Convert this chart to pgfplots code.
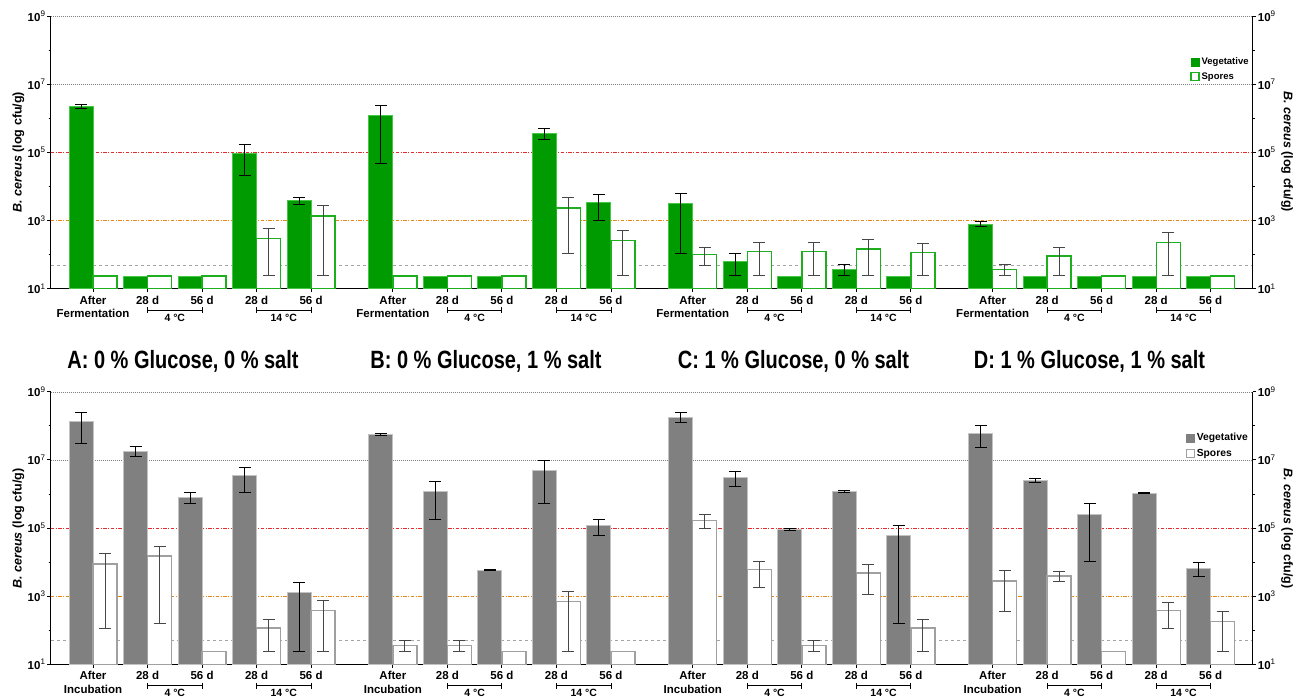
\documentclass[border=0pt]{standalone}
\usepackage{fontspec}
\setmainfont{Liberation Sans}
\usepackage{pgfplots}
\usepackage{pgfplotstable}
\pgfplotsset{compat=1.18}

\definecolor{vgreen}{RGB}{0,155,0}
\definecolor{vgreenedge}{RGB}{70,200,70}
\definecolor{sgreen}{RGB}{30,175,30}
\definecolor{vgray}{RGB}{128,128,128}
\definecolor{vgrayedge}{RGB}{195,195,195}
\definecolor{sgrayedge}{RGB}{160,160,160}
\definecolor{refred}{RGB}{225,45,45}
\definecolor{reforange}{RGB}{235,135,25}
\definecolor{refgray}{RGB}{165,165,165}
\definecolor{gridgray}{RGB}{130,130,130}
\definecolor{errgray}{RGB}{70,70,70}

\newcommand\xtfont{\fontsize{11.5}{13.5}\selectfont\bfseries}
\newcommand\ytfont{\fontsize{11.5}{13}\selectfont\bfseries}
\newcommand\brfont{\fontsize{10.5}{12}\selectfont\bfseries}
\newcommand\lgfontA{\fontsize{9.5}{11}\selectfont\bfseries}
\newcommand\lgfontB{\fontsize{10.3}{12}\selectfont\bfseries}
\newcommand\ylfont{\fontsize{12.5}{14}\selectfont\bfseries}
\newcommand\ttfont{\fontsize{25}{28}\selectfont\bfseries}
\newcommand\ylab[1]{10\textsuperscript{\mdseries #1}}

% log10 of cfu/g: x position, bar value, upper and lower end of error bar
\pgfplotstableread{
x y hi lo
0 6.34 6.41 6.28
1 1.37 1.37 1.37
2 1.37 1.37 1.37
3 4.98 5.23 4.31
4 3.58 3.67 3.48
5.5 6.07 6.37 4.68
6.5 1.37 1.37 1.37
7.5 1.37 1.37 1.37
8.5 5.57 5.70 5.38
9.5 3.53 3.77 2.99
11 3.50 3.80 2.04
12 1.81 2.04 1.38
13 1.37 1.37 1.37
14 1.57 1.71 1.38
15 1.37 1.37 1.37
16.5 2.89 2.98 2.83
17.5 1.37 1.37 1.37
18.5 1.37 1.37 1.37
19.5 1.37 1.37 1.37
20.5 1.37 1.37 1.37
}\topveg
\pgfplotstableread{
x y hi lo
0 1.37 1.37 1.37
1 1.37 1.37 1.37
2 1.37 1.37 1.37
3 2.47 2.76 1.38
4 3.13 3.44 1.38
5.5 1.37 1.37 1.37
6.5 1.37 1.37 1.37
7.5 1.37 1.37 1.37
8.5 3.37 3.67 2.03
9.5 2.42 2.70 1.38
11 2.01 2.20 1.68
12 2.10 2.36 1.38
13 2.10 2.36 1.38
14 2.16 2.45 1.38
15 2.07 2.33 1.38
16.5 1.57 1.71 1.38
17.5 1.96 2.20 1.38
18.5 1.37 1.37 1.37
19.5 2.36 2.65 1.38
20.5 1.37 1.37 1.37
}\topspo
\pgfplotstableread{
x y hi lo
0 8.14 8.40 7.47
1 7.26 7.40 7.09
2 5.90 6.04 5.71
3 6.55 6.78 6.03
4 3.11 3.41 1.39
5.5 7.76 7.79 7.73
6.5 6.08 6.36 5.25
7.5 3.76 3.77 3.75
8.5 6.69 6.97 5.71
9.5 5.07 5.25 4.79
11 8.25 8.40 8.09
12 6.48 6.67 6.21
13 4.96 4.99 4.93
14 6.07 6.11 6.03
15 4.77 5.08 2.20
16.5 7.79 8.00 7.36
17.5 6.40 6.46 6.35
18.5 5.41 5.73 4.03
19.5 6.02 6.05 6.00
20.5 3.81 3.98 3.57
}\botveg
\pgfplotstableread{
x y hi lo
0 3.95 4.25 2.04
1 4.18 4.47 2.20
2 1.37 1.37 1.37
3 2.06 2.33 1.39
4 2.58 2.88 1.39
5.5 1.56 1.71 1.39
6.5 1.56 1.71 1.39
7.5 1.37 1.37 1.37
8.5 2.84 3.14 1.39
9.5 1.37 1.37 1.37
11 5.23 5.39 4.99
12 3.79 4.03 3.25
13 1.56 1.71 1.39
14 3.68 3.93 3.04
15 2.07 2.33 1.39
16.5 3.45 3.74 2.54
17.5 3.59 3.73 3.43
18.5 1.37 1.37 1.37
19.5 2.58 2.82 2.05
20.5 2.26 2.55 1.39
}\botspo

\pgfplotsset{
  panel/.style={
    scale only axis, width=1202pt, height=272.5pt,
    xmin=-0.776, xmax=21.27, ymin=1, ymax=9,
    clip mode=individual,
    axis line style={line width=1.1pt, black},
    tick align=outside,
    major tick length=3.5pt, minor tick length=2pt,
    tick style={black, line width=0.9pt},
    ytick={1,3,5,7,9}, minor ytick={2,4,6,8},
    yticklabels={\ylab{1},\ylab{3},\ylab{5},\ylab{7},\ylab{9}},
    yticklabel style={font=\ytfont, inner sep=1.5pt},
  },
  mainpanel/.style={
    panel, axis x line*=bottom, axis y line*=left,
    xtick={0,1,2,3,4,5.5,6.5,7.5,8.5,9.5,11,12,13,14,15,16.5,17.5,18.5,19.5,20.5},
    xticklabel style={font=\xtfont, align=center},
    legend cell align=left,
  },
  rightpanel/.style={
    panel, axis x line=none, axis y line*=right, xtick=\empty,
  },
  refline/.style={forget plot, sharp plot, no marks},
  vbar/.style={ybar, bar width=0.44, bar shift=-0.22},
  sbar/.style={ybar, bar width=0.44, bar shift=0.22},
  errs/.style={forget plot, draw=none, mark=none,
    restrict expr to domain={\thisrow{hi}-\thisrow{lo}}{0.005:100},
    error bars/.cd, y dir=both, y explicit,
    error bar style={draw=#1, line width=1pt, solid},
    error mark options={rotate=90, mark size=6pt, line width=1pt, draw=#1}},
}
\newcommand\reflines{%
  \addplot[refline, gridgray, line width=0.6pt, dash pattern=on 1pt off 1pt] coordinates {(-0.776,7) (21.27,7)};
  \addplot[refline, gridgray, line width=0.6pt, dash pattern=on 1pt off 1pt] coordinates {(-0.776,9) (21.27,9)};
  \addplot[refline, refred, line width=1.1pt, dash pattern=on 3.5pt off 1.5pt on 1pt off 1.5pt] coordinates {(-0.776,5) (21.27,5)};
  \addplot[refline, reforange, line width=1.1pt, dash pattern=on 3.5pt off 1.5pt on 1pt off 1.5pt] coordinates {(-0.776,3) (21.27,3)};
  \addplot[refline, refgray, line width=0.9pt, dash pattern=on 3pt off 3pt] coordinates {(-0.776,1.69) (21.27,1.69)};
}
\newcommand\tbr[4]{%
  \draw[line width=0.9pt] ([yshift=-21.5pt]axis cs:#1,1) -- ([yshift=-21.5pt]axis cs:#2,1);
  \draw[line width=0.9pt] ([yshift=-18.5pt]axis cs:#1,1) -- ([yshift=-24.5pt]axis cs:#1,1);
  \draw[line width=0.9pt] ([yshift=-18.5pt]axis cs:#2,1) -- ([yshift=-24.5pt]axis cs:#2,1);
  \node[font=\brfont, anchor=north, inner sep=0pt] at ([yshift=-25pt]axis cs:#3,1) {#4};
}
\newcommand\allbr{%
  \tbr{1}{2}{1.5}{4 °C}\tbr{3}{4}{3.5}{14 °C}%
  \tbr{6.5}{7.5}{7}{4 °C}\tbr{8.5}{9.5}{9}{14 °C}%
  \tbr{12}{13}{12.5}{4 °C}\tbr{14}{15}{14.5}{14 °C}%
  \tbr{17.5}{18.5}{18}{4 °C}\tbr{19.5}{20.5}{20}{14 °C}%
}

\begin{document}
\begin{tikzpicture}
\useasboundingbox (0,0) rectangle (1300pt,699pt);

% ---------- top panel ----------
\begin{axis}[mainpanel, at={(50.7pt,410.3pt)}, anchor=south west,
  xticklabels={{After\\Fermentation},28 d,56 d,28 d,56 d,{After\\Fermentation},28 d,56 d,28 d,56 d,{After\\Fermentation},28 d,56 d,28 d,56 d,{After\\Fermentation},28 d,56 d,28 d,56 d},
  legend style={at={(0.948,0.855)}, anchor=north west, draw=none, fill=none, font=\lgfontA, inner sep=0pt, row sep=2.5pt},
]
\reflines
\addplot[vbar, fill=vgreen, draw=vgreenedge, line width=1pt,
  legend image code/.code={\draw[fill=vgreen, draw=vgreen, line width=0.8pt] (0pt,-4pt) rectangle (8pt,4pt);}]
  table[x=x,y=y] {\topveg};
\addlegendentry{Vegetative}
\addplot[sbar, fill=white, draw=sgreen, line width=1.4pt,
  legend image code/.code={\draw[fill=white, draw=sgreen, line width=1.2pt] (0pt,-4pt) rectangle (8pt,4pt);}]
  table[x=x,y=y] {\topspo};
\addlegendentry{Spores}
\addplot[errs=black] table[x expr=\thisrow{x}-0.22, y=y, y error plus expr=\thisrow{hi}-\thisrow{y}, y error minus expr=\thisrow{y}-\thisrow{lo}] {\topveg};
\addplot[errs=errgray] table[x expr=\thisrow{x}+0.22, y=y, y error plus expr=\thisrow{hi}-\thisrow{y}, y error minus expr=\thisrow{y}-\thisrow{lo}] {\topspo};
\allbr
\end{axis}
\begin{axis}[rightpanel, at={(50.7pt,410.3pt)}, anchor=south west]
\addplot[draw=none, forget plot] coordinates {(0,1)};
\end{axis}

% ---------- bottom panel ----------
\begin{axis}[mainpanel, at={(50.7pt,34.7pt)}, anchor=south west,
  xticklabels={{After\\Incubation},28 d,56 d,28 d,56 d,{After\\Incubation},28 d,56 d,28 d,56 d,{After\\Incubation},28 d,56 d,28 d,56 d,{After\\Incubation},28 d,56 d,28 d,56 d},
  legend style={at={(0.944,0.855)}, anchor=north west, draw=none, fill=none, font=\lgfontB, inner sep=0pt, row sep=2.5pt},
]
\reflines
\addplot[vbar, fill=vgray, draw=vgrayedge, line width=1pt,
  legend image code/.code={\draw[fill=vgray, draw=vgray, line width=0.8pt] (0pt,-4pt) rectangle (8pt,4pt);}]
  table[x=x,y=y] {\botveg};
\addlegendentry{Vegetative}
\addplot[sbar, fill=white, draw=sgrayedge, line width=1.4pt,
  legend image code/.code={\draw[fill=white, draw=sgrayedge, line width=1.2pt] (0pt,-4pt) rectangle (8pt,4pt);}]
  table[x=x,y=y] {\botspo};
\addlegendentry{Spores}
\addplot[errs=black] table[x expr=\thisrow{x}-0.22, y=y, y error plus expr=\thisrow{hi}-\thisrow{y}, y error minus expr=\thisrow{y}-\thisrow{lo}] {\botveg};
\addplot[errs=errgray] table[x expr=\thisrow{x}+0.22, y=y, y error plus expr=\thisrow{hi}-\thisrow{y}, y error minus expr=\thisrow{y}-\thisrow{lo}] {\botspo};
\allbr
\end{axis}
\begin{axis}[rightpanel, at={(50.7pt,34.7pt)}, anchor=south west]
\addplot[draw=none, forget plot] coordinates {(0,1)};
\end{axis}

% axis titles
\node[font=\ylfont, rotate=90] at (18.5pt,547pt) {\textit{B. cereus} (log cfu/g)};
\node[font=\ylfont, rotate=-90] at (1287pt,547pt) {\textit{B. cereus} (log cfu/g)};
\node[font=\ylfont, rotate=90] at (18.5pt,170.7pt) {\textit{B. cereus} (log cfu/g)};
\node[font=\ylfont, rotate=-90] at (1287pt,170.7pt) {\textit{B. cereus} (log cfu/g)};

% panel titles
\node[font=\ttfont, xscale=0.8, anchor=base] at (183pt,330.3pt) {A: 0 \% Glucose, 0 \% salt};
\node[font=\ttfont, xscale=0.8, anchor=base] at (486pt,330.3pt) {B: 0 \% Glucose, 1 \% salt};
\node[font=\ttfont, xscale=0.8, anchor=base] at (793.5pt,330.3pt) {C: 1 \% Glucose, 0 \% salt};
\node[font=\ttfont, xscale=0.8, anchor=base] at (1089.5pt,330.3pt) {D: 1 \% Glucose, 1 \% salt};
\end{tikzpicture}
\end{document}
